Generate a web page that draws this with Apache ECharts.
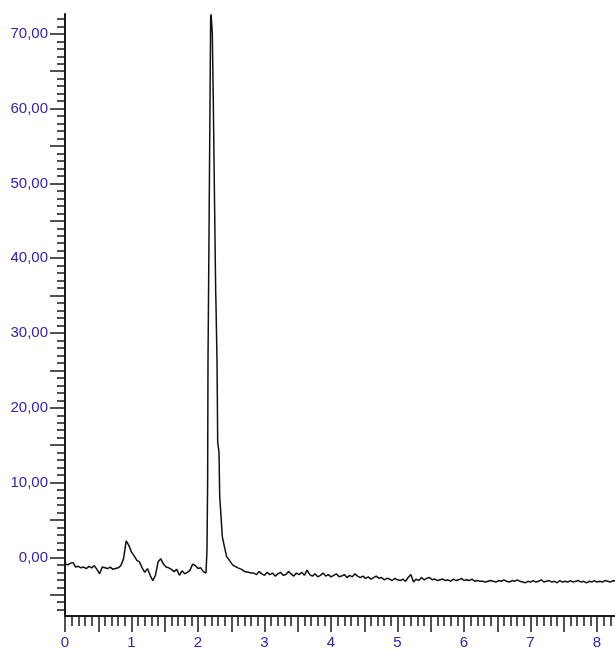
<!DOCTYPE html>
<html>
<head>
<meta charset="utf-8">
<script src="https://cdn.jsdelivr.net/npm/echarts@6/dist/echarts.min.js"></script>
<style>
  html, body { margin: 0; padding: 0; background: #fff; }
  #main { width: 615px; height: 650px; }
</style>
</head>
<body>
<div id="main"></div>
<script>
// baseline before the main peak, sampled every 0.04 min from 0
const preStart = 0, preStep = 0.04;
const preSignal = [
  -0.9, -1.0, -0.8, -0.7, -1.3, -1.2, -1.4, -1.3, -1.5, -1.2,
  -1.4, -1.1, -1.6, -2.2, -1.3, -1.4, -1.5, -1.3, -1.6, -1.5,
  -1.4, -1.1, -0.2, 2.2, 1.6, 0.7, 0.2, -0.4, -0.6, -1.4,
  -2.0, -1.5, -2.4, -3.1, -2.4, -0.6, -0.2, -0.9, -1.3, -1.4,
  -1.6, -1.9, -1.6, -2.4, -1.8, -2.2, -2.0, -1.7, -0.9, -1.1,
  -1.5, -1.4, -1.9, -2.1
];

// main peak, read point by point
const peakTime = [
  2.135, 2.145, 2.15, 2.16, 2.175, 2.19, 2.197, 2.215, 2.23, 2.245,
  2.266, 2.27, 2.286, 2.296, 2.316, 2.326, 2.346, 2.365, 2.395, 2.43,
  2.48, 2.52, 2.556, 2.60, 2.657, 2.70, 2.756, 2.80
];
const peakSignal = [
  1.0, 10.4, 26, 37, 54.5, 72.2, 72.6, 70, 61, 50,
  35.4, 34, 26, 15.4, 14, 8.2, 5.5, 2.8, 1.5, 0.1,
  -0.5, -1.0, -1.2, -1.4, -1.6, -1.9, -2.0, -2.1
];

// tail after the peak, every 0.04 min from 2.84
const postStart = 2.84, postStep = 0.04;
const postSignal = [
  -2.1, -2.3, -1.9, -2.2, -2.4, -2.0, -2.3, -2.1, -2.5, -2.2,
  -2.0, -2.4, -2.3, -1.9, -2.2, -2.5, -2.1, -2.3, -2.0, -2.4,
  -1.7, -2.3, -2.5, -2.2, -2.6, -2.4, -2.1, -2.5, -2.3, -2.6,
  -2.4, -2.2, -2.6, -2.5, -2.3, -2.7, -2.4, -2.6, -2.2, -2.5,
  -2.7, -2.5, -2.8, -2.6, -2.9, -2.7, -2.5, -2.8, -2.7, -3.0,
  -2.8, -2.9, -3.1, -2.8, -3.0, -3.1, -2.9, -3.2, -2.7, -2.3,
  -3.3, -2.9, -3.1, -2.7, -3.0, -2.8, -2.7, -3.0, -2.9, -3.1,
  -3.0, -2.9, -3.1, -3.0, -3.2, -2.9, -3.1, -3.0, -2.8, -3.1,
  -3.0, -3.1, -2.9, -3.2, -3.1, -3.2, -3.2, -3.3, -3.2, -3.1,
  -3.2, -3.3, -3.1, -3.2, -3.0, -3.2, -3.3, -3.1, -3.2, -3.0,
  -3.2, -3.3, -3.4, -3.2, -3.3, -3.1, -3.3, -3.2, -3.0, -3.3,
  -3.2, -3.1, -3.3, -3.2, -3.4, -3.1, -3.3, -3.2, -3.3, -3.1,
  -3.3, -3.2, -3.1, -3.3, -3.2, -3.4, -3.2, -3.3, -3.1, -3.3,
  -3.2, -3.3, -3.1, -3.2, -3.3, -3.1, -3.2
];

const xLabels = [0, 1, 2, 3, 4, 5, 6, 7, 8];
const yLabels = [0, 10, 20, 30, 40, 50, 60, 70];

const xMin = 0, xMax = 8.27;
const yMin = -7.84, yMax = 72.65;

// tick positions
let xMajorTicks = [], xMinorTicks = [];
for (let i = 0; i <= 82; i++) {
    let v = +(i * 0.1).toFixed(1);
    if (i % 5 === 0) xMajorTicks.push(v); else xMinorTicks.push(v);
}
let yMajorTicks = [], yMinorTicks = [];
for (let v = -7; v <= 72; v++) {
    if (v % 5 === 0) yMajorTicks.push(v); else yMinorTicks.push(v);
}

let data = [];
preSignal.forEach((v, i) => data.push([+(preStart + i * preStep).toFixed(3), v]));
peakSignal.forEach((v, i) => data.push([peakTime[i], v]));
postSignal.forEach((v, i) => data.push([+(postStart + i * postStep).toFixed(3), v]));

const axisColor = '#1a1a1a';
const labelColor = '#3322b0';
const labelFont = { color: labelColor, fontSize: 15, fontFamily: 'Liberation Sans, Arial, sans-serif' };

var myChart = echarts.init(document.getElementById('main'));
myChart.setOption({
    animation: false,
    grid: { left: 65, right: 0, top: 14, bottom: 33 },
    xAxis: [
        {
            type: 'value', min: xMin, max: xMax, position: 'bottom',
            axisLine: { show: true, onZero: false, lineStyle: { color: axisColor, width: 2 } },
            axisTick: { show: true, customValues: xMajorTicks, length: 16, lineStyle: { color: axisColor, width: 1.5 } },
            axisLabel: Object.assign({ customValues: xLabels, margin: 19, formatter: v => String(v) }, labelFont),
            splitLine: { show: false }
        },
        {
            type: 'value', min: xMin, max: xMax, position: 'bottom',
            axisLine: { show: false, onZero: false },
            axisTick: { show: true, customValues: xMinorTicks, length: 10, lineStyle: { color: axisColor, width: 1.5 } },
            axisLabel: { show: false },
            splitLine: { show: false }
        }
    ],
    yAxis: [
        {
            type: 'value', min: yMin, max: yMax, position: 'left',
            axisLine: { show: true, onZero: false, lineStyle: { color: axisColor, width: 2 } },
            axisTick: { show: true, customValues: yMajorTicks, length: 15, lineStyle: { color: axisColor, width: 1.5 } },
            axisLabel: Object.assign({ customValues: yLabels, margin: 17, formatter: v => v.toFixed(2).replace('.', ',') }, labelFont),
            splitLine: { show: false }
        },
        {
            type: 'value', min: yMin, max: yMax, position: 'left',
            axisLine: { show: false, onZero: false },
            axisTick: { show: true, customValues: yMinorTicks, length: 8, lineStyle: { color: axisColor, width: 1.5 } },
            axisLabel: { show: false },
            splitLine: { show: false }
        }
    ],
    series: [{
        type: 'line',
        data: data,
        showSymbol: false,
        lineStyle: { color: '#111', width: 1.5 }
    }]
});
</script>
</body>
</html>
